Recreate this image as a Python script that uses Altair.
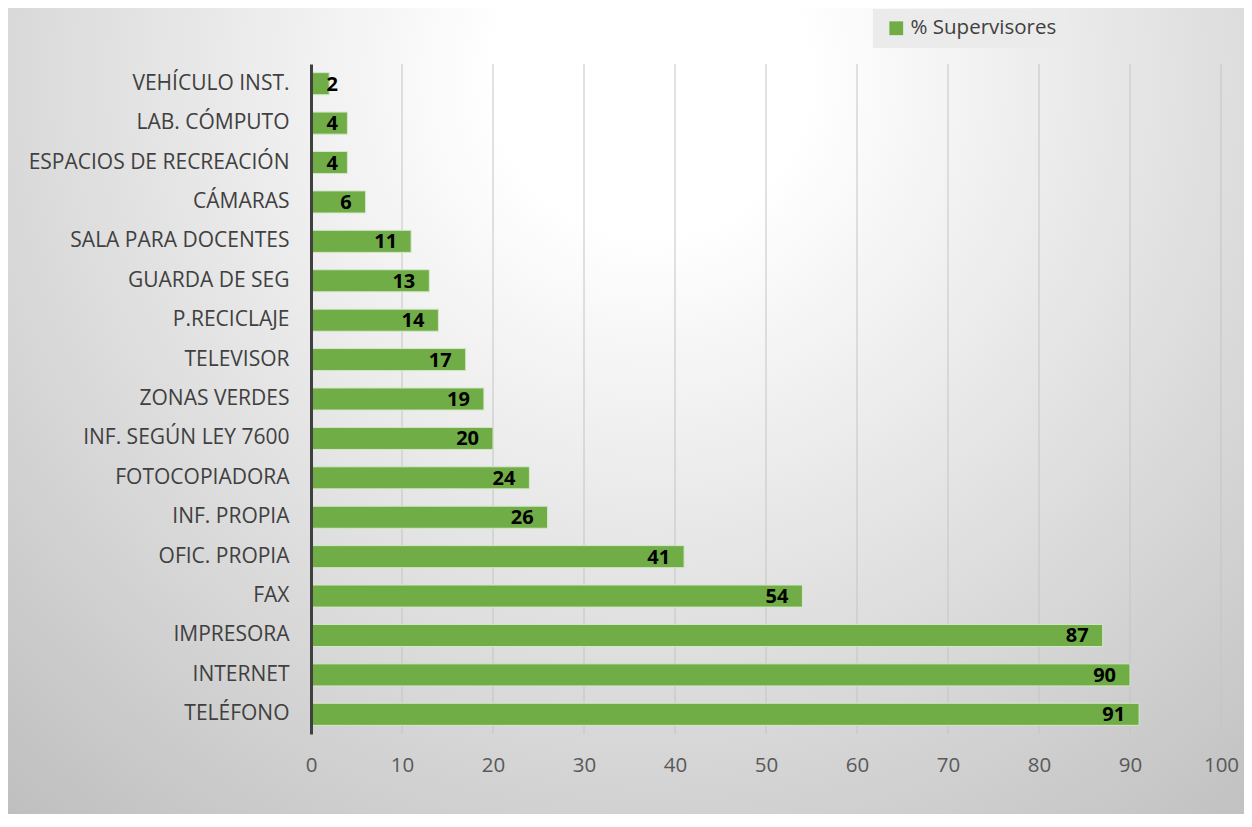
import altair as alt
import pandas as pd

categories = ["VEHÍCULO INST.", "LAB. CÓMPUTO", "ESPACIOS DE RECREACIÓN", "CÁMARAS",
              "SALA PARA DOCENTES", "GUARDA DE SEG", "P.RECICLAJE", "TELEVISOR",
              "ZONAS VERDES", "INF. SEGÚN LEY 7600", "FOTOCOPIADORA", "INF. PROPIA",
              "OFIC. PROPIA", "FAX", "IMPRESORA", "INTERNET", "TELÉFONO "]
values = [2, 4, 4, 6, 11, 13, 14, 17, 19, 20, 24, 26, 41, 54, 87, 90, 91]
series_name = "% Supervisores"
x_ticks = [0, 10, 20, 30, 40, 50, 60, 70, 80, 90, 100]

W, H = 910, 670
PAD = {"left": 303, "top": 56, "right": 23, "bottom": 80}
FONT = "Open Sans"

df = pd.DataFrame({"cat": categories, "value": values, "series": series_name})
grid_df = pd.DataFrame({"t": x_ticks[1:]})

xscale = alt.Scale(domain=[0, 100], nice=False, zero=True)
yscale = alt.Scale(paddingInner=0.44, paddingOuter=0.22)

x_axis = alt.Axis(values=x_ticks, grid=False, domain=False, ticks=False,
                  labelPadding=21, labelFontSize=20.5, labelColor="#595959",
                  labelFont=FONT, title=None, zindex=1, labelFlush=False,
                  labelOverlap=False)

bg = alt.Chart(pd.DataFrame({"a": [0]})).mark_rect(
    fill=alt.RadialGradient(
        gradient="radial",
        stops=[alt.GradientStop(offset=0, color="#ffffff"),
               alt.GradientStop(offset=0.15, color="#ffffff"),
               alt.GradientStop(offset=1, color="#b9b9b9")],
        x1=0.52, y1=0.23, r1=0, x2=0.52, y2=0.23, r2=0.85),
).encode(
    x=alt.value(-PAD["left"]), x2=alt.value(W + PAD["right"]),
    y=alt.value(-PAD["top"]), y2=alt.value(H + PAD["bottom"]),
)

grid = alt.Chart(grid_df).mark_rule(color="#c4c4c4", strokeWidth=1).encode(
    x=alt.X("t:Q", scale=xscale, axis=x_axis)
)

bars = alt.Chart(df).mark_bar(stroke="#d5e8c8", strokeWidth=1).encode(
    x=alt.X("value:Q", scale=xscale, axis=x_axis),
    y=alt.Y("cat:N", sort=categories, scale=yscale,
            axis=alt.Axis(domain=True, domainColor="#404040", domainWidth=3,
                          ticks=False, labelPadding=22, labelFontSize=21,
                          labelColor="#404040", labelFont=FONT, title=None,
                          labelLimit=0, zindex=1)),
    color=alt.Color("series:N", scale=alt.Scale(range=["#70ad47"]),
                    legend=alt.Legend(title=None, orient="none", legendX=562, legendY=-55,
                                      labelFontSize=20.5, labelColor="#404040", labelFont=FONT,
                                      symbolType="square", symbolSize=190,
                                      symbolStrokeWidth=0, fillColor="#ebebeb",
                                      padding=9, symbolOffset=4, labelLimit=0)),
)

labels = alt.Chart(df).transform_calculate(
    pos="max(datum.value, 4.5)"
).mark_text(align="right", baseline="middle", dx=-14, dy=1, fontSize=20,
            fontWeight="bold", font=FONT, color="#000000").encode(
    x=alt.X("pos:Q", scale=xscale),
    y=alt.Y("cat:N", sort=categories, scale=yscale),
    text=alt.Text("value:Q"),
)

chart = alt.layer(bg, grid, bars, labels).properties(
    width=W, height=H, padding=PAD,
    autosize=alt.AutoSizeParams(type="none"),
).configure_view(stroke=None).configure(background="#ffffff")

chart.save("out.html", embed_options={"renderer": "svg", "actions": False})
